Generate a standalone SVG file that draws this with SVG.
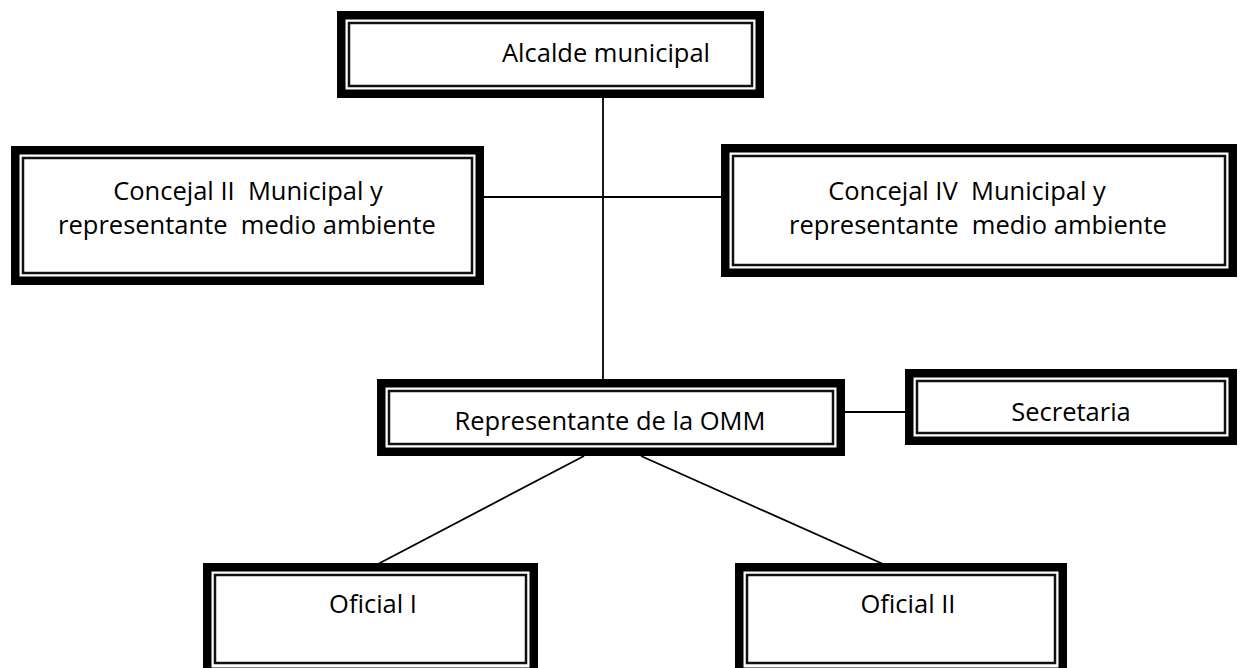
<svg xmlns="http://www.w3.org/2000/svg" width="1241" height="668" viewBox="0 0 1241 668">
<style>
.thick{fill:#fff;stroke:#000;stroke-width:8.5}
.thin{fill:none;stroke:#111;stroke-width:2.5}
.lbl{font-family:"Open Sans","Noto Sans",sans-serif;font-size:25.5px;fill:#000;text-anchor:middle;white-space:pre}
.conn{stroke:#000;stroke-width:1.8;fill:none}
</style>
<rect width="1241" height="668" fill="#fff"/>
<g id="connectors">
<line class="conn" x1="603" y1="98" x2="603" y2="379"/>
<line class="conn" x1="484" y1="197" x2="721" y2="197"/>
<line class="conn" x1="845" y1="412" x2="905" y2="412"/>
<line class="conn" x1="584" y1="456" x2="378" y2="564"/>
<line class="conn" x1="641" y1="456" x2="883" y2="564"/>
</g>
<g id="alcalde">
<rect class="thick" x="341.25" y="15.25" width="418.5" height="78.5"/>
<rect class="thin" x="349" y="23" width="403" height="63"/>
<text class="lbl" x="606" y="62">Alcalde municipal</text>
</g>
<g id="concejal2">
<rect class="thick" x="15.25" y="150.25" width="464.5" height="130.5"/>
<rect class="thin" x="23" y="158" width="449" height="115"/>
<text class="lbl" x="248" y="200" xml:space="preserve">Concejal II  Municipal y</text>
<text class="lbl" x="247" y="234" xml:space="preserve">representante  medio ambiente</text>
</g>
<g id="concejal4">
<rect class="thick" x="725.25" y="148.25" width="507.5" height="124.5"/>
<rect class="thin" x="733" y="156" width="492" height="109"/>
<text class="lbl" x="967" y="200" xml:space="preserve">Concejal IV  Municipal y</text>
<text class="lbl" x="978" y="234" xml:space="preserve">representante  medio ambiente</text>
</g>
<g id="omm">
<rect class="thick" x="381.25" y="383.25" width="459.5" height="68.5"/>
<rect class="thin" x="389" y="391" width="444" height="53"/>
<text class="lbl" x="610" y="430">Representante de la OMM</text>
</g>
<g id="secretaria">
<rect class="thick" x="909.25" y="373.25" width="323.5" height="67.5"/>
<rect class="thin" x="917" y="381" width="308" height="52"/>
<text class="lbl" x="1071" y="421">Secretaria</text>
</g>
<g id="oficial1">
<rect class="thick" x="207.25" y="567.25" width="326.5" height="104.5"/>
<rect class="thin" x="215" y="575" width="311" height="88"/>
<text class="lbl" x="373" y="613">Oficial I</text>
</g>
<g id="oficial2">
<rect class="thick" x="739.25" y="567.25" width="323.5" height="104.5"/>
<rect class="thin" x="747" y="575" width="308" height="88"/>
<text class="lbl" x="908" y="613">Oficial II</text>
</g>
</svg>
